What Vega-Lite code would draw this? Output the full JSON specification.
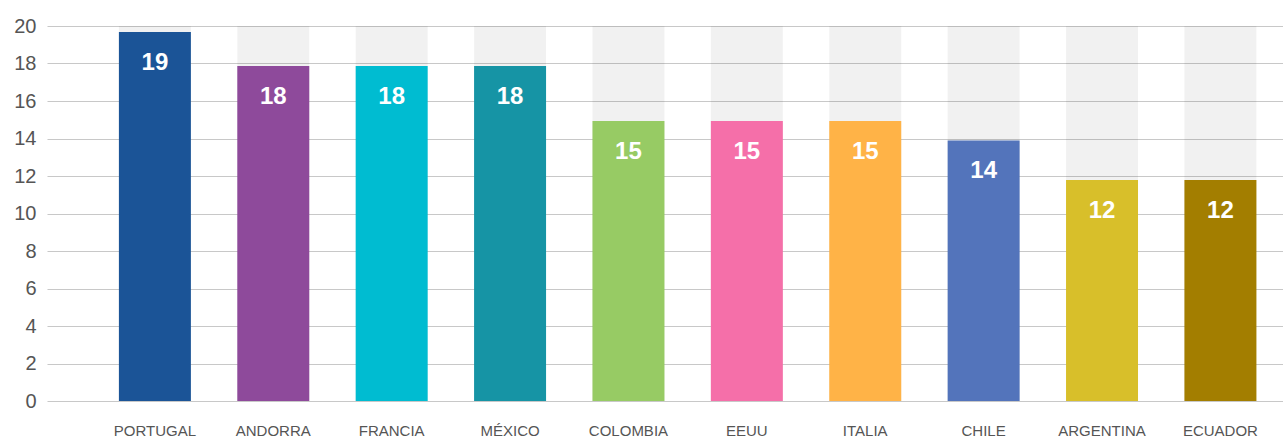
{
  "$schema": "https://vega.github.io/schema/vega-lite/v6.json",
  "width": 1236,
  "height": 375,
  "autosize": {"type": "none"},
  "padding": {"left": 47, "top": 26, "right": 0, "bottom": 38},
  "background": "white",
  "config": {
    "view": {"stroke": null},
    "font": "Liberation Sans"
  },
  "data": {
    "values": [
      {"pais": "PORTUGAL", "valor": 19.68, "etiqueta": "19"},
      {"pais": "ANDORRA", "valor": 17.87, "etiqueta": "18"},
      {"pais": "FRANCIA", "valor": 17.87, "etiqueta": "18"},
      {"pais": "MÉXICO", "valor": 17.87, "etiqueta": "18"},
      {"pais": "COLOMBIA", "valor": 14.93, "etiqueta": "15"},
      {"pais": "EEUU", "valor": 14.93, "etiqueta": "15"},
      {"pais": "ITALIA", "valor": 14.93, "etiqueta": "15"},
      {"pais": "CHILE", "valor": 13.9, "etiqueta": "14"},
      {"pais": "ARGENTINA", "valor": 11.79, "etiqueta": "12"},
      {"pais": "ECUADOR", "valor": 11.79, "etiqueta": "12"}
    ]
  },
  "encoding": {
    "x": {
      "field": "pais",
      "type": "nominal",
      "sort": null,
      "scale": {"paddingInner": 0.392, "paddingOuter": 0.416, "align": 0.73},
      "axis": {
        "title": null,
        "domain": false,
        "ticks": false,
        "grid": false,
        "labelAngle": 0,
        "labelFont": "Liberation Sans",
        "labelFontSize": 15,
        "labelColor": "#555555",
        "labelPadding": 22,
        "labelBaseline": "top"
      }
    },
    "y": {
      "field": "valor",
      "type": "quantitative",
      "scale": {"domain": [0, 20], "nice": false},
      "axis": {
        "title": null,
        "domain": false,
        "ticks": false,
        "grid": true,
        "values": [0, 2, 4, 6, 8, 10, 12, 14, 16, 18, 20],
        "labelOverlap": false,
        "gridColor": "#c8c8c8",
        "gridWidth": 1.2,
        "labelFont": "Liberation Sans",
        "labelFontSize": 20,
        "labelColor": "#555555",
        "labelPadding": 11
      }
    }
  },
  "layer": [
    {
      "mark": {"type": "bar", "color": "#000000", "opacity": 0.055},
      "encoding": {
        "y": {"datum": 20, "type": "quantitative"},
        "y2": {"datum": 0}
      }
    },
    {
      "mark": {"type": "bar"},
      "encoding": {
        "color": {
          "field": "pais",
          "type": "nominal",
          "legend": null,
          "scale": {
            "domain": ["PORTUGAL", "ANDORRA", "FRANCIA", "MÉXICO", "COLOMBIA", "EEUU", "ITALIA", "CHILE", "ARGENTINA", "ECUADOR"],
            "range": ["#1b5497", "#8e4a9b", "#00bcd1", "#1694a5", "#97cb64", "#f56fa9", "#ffb347", "#5374bb", "#d8bf2a", "#a37e00"]
          }
        }
      }
    },
    {
      "mark": {"type": "text", "color": "white", "fontWeight": "bold", "fontSize": 24, "font": "Liberation Sans", "baseline": "middle", "dy": 31},
      "encoding": {
        "text": {"field": "etiqueta", "type": "nominal"}
      }
    }
  ]
}
